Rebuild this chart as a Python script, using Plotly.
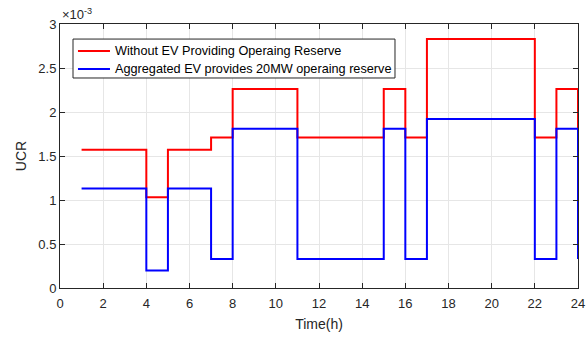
import plotly.graph_objects as go

hours = list(range(1, 25))
# UCR values in units of 1e-3
ucr_without_ev = [1.57, 1.57, 1.57, 1.03, 1.57, 1.57, 1.71, 2.26, 2.26, 2.26,
                  1.71, 1.71, 1.71, 1.71, 2.26, 1.71, 2.83, 2.83, 2.83, 2.83,
                  2.83, 1.71, 2.26, 1.71]
ucr_with_ev = [1.13, 1.13, 1.13, 0.20, 1.13, 1.13, 0.33, 1.81, 1.81, 1.81,
               0.33, 0.33, 0.33, 0.33, 1.81, 0.33, 1.92, 1.92, 1.92, 1.92,
               1.92, 0.33, 1.81, 0.33]
series_names = ["Without EV Providing Operaing Reserve",
                "Aggregated EV provides 20MW operaing reserve"]
series_colors = ["#ff0000", "#0000ff"]
x_ticks = list(range(0, 25, 2))
y_ticks = [0, 0.5, 1, 1.5, 2, 2.5, 3]
y_ticklabels = ["0", "0.5", "1", "1.5", "2", "2.5", "3"]

fig = go.Figure()
for name, vals, col in zip(series_names, [ucr_without_ev, ucr_with_ev], series_colors):
    fig.add_trace(go.Scatter(x=hours, y=vals, mode="lines", line_shape="hv",
                             line=dict(color=col, width=2), name=name,
                             showlegend=False))

axis_common = dict(showline=True, linecolor="#262626", linewidth=1, mirror="ticks",
                   ticks="inside", ticklen=5, tickcolor="#262626",
                   showgrid=True, gridcolor="#e6e6e6", gridwidth=1, zeroline=False,
                   automargin=False,
                   tickfont=dict(size=13, color="#262626"))

# MATLAB-style legend box (compact rows) drawn in paper coordinates
shapes = [dict(type="rect", xref="paper", yref="paper", x0=0.0251, x1=0.6467,
               y0=0.7955, y1=0.943, fillcolor="white",
               line=dict(color="#262626", width=1), layer="above")]
annotations = []
row_y = [0.8977, 0.8295]
for name, col, yy in zip(series_names, series_colors, row_y):
    shapes.append(dict(type="line", xref="paper", yref="paper", x0=0.0347, x1=0.0965,
                       y0=yy, y1=yy, line=dict(color=col, width=2), layer="above"))
    annotations.append(dict(text=name, xref="paper", yref="paper", x=0.1023, y=yy,
                            xanchor="left", yanchor="middle", showarrow=False,
                            font=dict(size=12.7, color="black")))
annotations.append(dict(text="×10<sup>-3</sup>", xref="paper", yref="paper",
                        x=0, y=1, xanchor="left", yanchor="bottom",
                        showarrow=False, font=dict(size=13, color="#262626")))

fig.update_layout(
    width=587, height=339,
    margin=dict(l=60, r=9, t=24, b=51),
    paper_bgcolor="white", plot_bgcolor="white",
    font=dict(family="Liberation Sans, Arial, sans-serif", color="#262626"),
    xaxis=dict(range=[0, 24], tickvals=x_ticks, ticklabelstandoff=3,
               title=dict(text="Time(h)", font=dict(size=14), standoff=9),
               **axis_common),
    yaxis=dict(range=[0, 3], tickvals=y_ticks, ticktext=y_ticklabels,
               title=dict(text="UCR", font=dict(size=14), standoff=8),
               **axis_common),
    showlegend=False,
    shapes=shapes,
    annotations=annotations,
)

fig.write_html("out.html")
